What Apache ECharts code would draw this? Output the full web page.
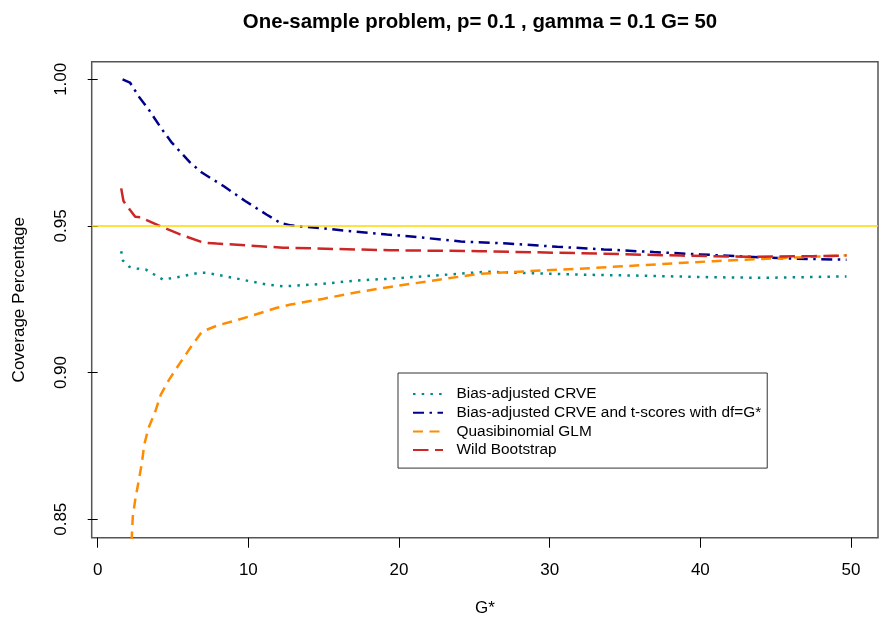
<!DOCTYPE html>
<html>
<head>
<meta charset="utf-8">
<script src="https://cdn.jsdelivr.net/npm/echarts@6/dist/echarts.min.js"></script>
<style>html,body{margin:0;padding:0;background:#fff}#c{width:883px;height:628px}</style>
</head>
<body>
<div id="c"></div>
<script>
const titleText = 'One-sample problem, p= 0.1 , gamma = 0.1 G= 50';
const xName = 'G*';
const yName = 'Coverage Percentage';
const xTicks = [0, 10, 20, 30, 40, 50];
const yTicks = [0.85, 0.90, 0.95, 1.00];
const refLine = 0.95;

const names = ['Bias-adjusted CRVE', 'Bias-adjusted CRVE and t-scores with df=G*', 'Quasibinomial GLM', 'Wild Bootstrap'];

const gTeal = [1.56, 1.67, 2.09, 2.6, 3.2, 4.33, 5.47, 6.69, 7.25, 9.01, 11.2, 12.4, 14.8, 17.2, 19.4, 23.2, 25.8, 28.7, 32.0, 36.4, 40.9, 44.2, 47.5, 49.7];
const vTeal = [0.9414, 0.9382, 0.9361, 0.9355, 0.9351, 0.9317, 0.9327, 0.9340, 0.9340, 0.9323, 0.9300, 0.9294, 0.9302, 0.9314, 0.9320, 0.9334, 0.9344, 0.9339, 0.9334, 0.9330, 0.9325, 0.9323, 0.9326, 0.9328];

const gBlue = [1.65, 2.14, 2.75, 3.37, 4.26, 4.92, 6.14, 6.91, 8.35, 9.79, 11.2, 12.1, 12.8, 14.5, 16.8, 19.2, 21.0, 24.1, 27.2, 30.5, 33.6, 36.9, 40.0, 43.1, 46.4, 49.7];
const vBlue = [1.000, 0.9989, 0.9940, 0.9898, 0.9830, 0.9784, 0.9716, 0.9682, 0.9636, 0.9585, 0.9539, 0.9511, 0.9502, 0.9494, 0.9482, 0.9471, 0.9463, 0.9447, 0.9440, 0.9429, 0.9420, 0.9411, 0.9403, 0.9395, 0.9388, 0.9385];

const gOrange = [1.6, 2.33, 2.49, 2.71, 2.93, 3.09, 3.37, 3.82, 4.19, 4.74, 5.47, 6.14, 6.91, 7.91, 9.12, 10.3, 11.9, 12.8, 15.0, 17.2, 19.4, 23.2, 25.4, 28.7, 32.0, 36.4, 40.9, 45.3, 49.7];
const vOrange = [0.775, 0.8509, 0.8566, 0.8628, 0.8691, 0.8754, 0.8811, 0.8867, 0.8925, 0.8976, 0.9033, 0.9084, 0.9139, 0.9160, 0.9177, 0.9195, 0.9221, 0.9232, 0.9252, 0.9274, 0.9292, 0.9321, 0.9337, 0.9346, 0.9354, 0.9367, 0.9380, 0.9390, 0.9400];

const gRed = [1.56, 1.71, 2.49, 2.82, 4.15, 5.47, 7.02, 7.9, 12.3, 19.4, 25.4, 32.0, 38.7, 43.1, 47.5, 49.7];
const vRed = [0.9628, 0.9585, 0.9531, 0.9530, 0.9499, 0.9471, 0.9443, 0.9440, 0.9426, 0.9417, 0.9414, 0.9407, 0.9399, 0.9395, 0.9397, 0.9399];

const colors = ['#008B8B', '#00008B', '#FF8C00', '#CD2626'];
const dashes = [[2.5, 6.2], [11, 5.5, 2.5, 5.5], [10, 6.5], [15.5, 6.5]];

function zip(g, v) { return g.map((x, i) => [x, v[i]]); }
const seriesData = [zip(gTeal, vTeal), zip(gBlue, vBlue), zip(gOrange, vOrange), zip(gRed, vRed)];

const FONT = '"Liberation Sans", Arial, sans-serif';

const series = seriesData.map((d, i) => ({
  name: names[i],
  type: 'line',
  data: d,
  symbol: 'none',
  clip: true,
  itemStyle: { color: colors[i] },
  lineStyle: { color: colors[i], width: 2.5, type: dashes[i], cap: 'butt' }
}));
series[0].markLine = {
  silent: true,
  symbol: ['none', 'none'],
  label: { show: false },
  lineStyle: { color: '#FFD700', width: 1.5, type: 'solid' },
  data: [{ yAxis: refLine }]
};

const chart = echarts.init(document.getElementById('c'), null, { renderer: 'canvas' });
chart.setOption({
  animation: false,
  backgroundColor: '#fff',
  title: {
    text: titleText,
    left: 475, top: 7, textAlign: 'center',
    textStyle: { fontFamily: FONT, fontSize: 20.4, fontWeight: 'bold', color: '#000' }
  },
  grid: {
    left: 91.7, top: 61.7, width: 786.3, height: 476,
    show: true, borderColor: '#555', borderWidth: 1.5, backgroundColor: 'transparent'
  },
  legend: {
    orient: 'vertical',
    left: 398, top: 373,
    padding: [13, 6, 10, 14],
    borderColor: '#333', borderWidth: 1,
    itemWidth: 30, itemHeight: 14, itemGap: 2.7,
    itemStyle: { opacity: 0, borderWidth: 0 },
    formatter: n => '  ' + n,
    textStyle: { fontFamily: FONT, fontSize: 15.4, color: '#000', lineHeight: 16 },
    data: names
  },
  xAxis: {
    type: 'value',
    min: -0.398, max: 51.79,
    name: xName, nameLocation: 'middle', nameGap: 62,
    nameTextStyle: { fontFamily: FONT, fontSize: 17, color: '#000' },
    axisLine: { show: false },
    splitLine: { show: false },
    axisTick: { show: true, length: 10, inside: false, customValues: xTicks, lineStyle: { color: '#000', width: 1 } },
    axisLabel: { customValues: xTicks, margin: 24, fontFamily: FONT, fontSize: 17, color: '#000' }
  },
  yAxis: {
    type: 'value',
    min: 0.8437, max: 1.006,
    name: yName, nameLocation: 'middle', nameGap: 64,
    nameTextStyle: { fontFamily: FONT, fontSize: 17, color: '#000' },
    axisLine: { show: false },
    splitLine: { show: false },
    axisTick: { show: true, length: 10, inside: false, customValues: yTicks, lineStyle: { color: '#000', width: 1 } },
    axisLabel: { customValues: yTicks, rotate: 90, margin: 22, fontFamily: FONT, fontSize: 17, color: '#000', formatter: v => v.toFixed(2) }
  },
  series: series
});
</script>
</body>
</html>
